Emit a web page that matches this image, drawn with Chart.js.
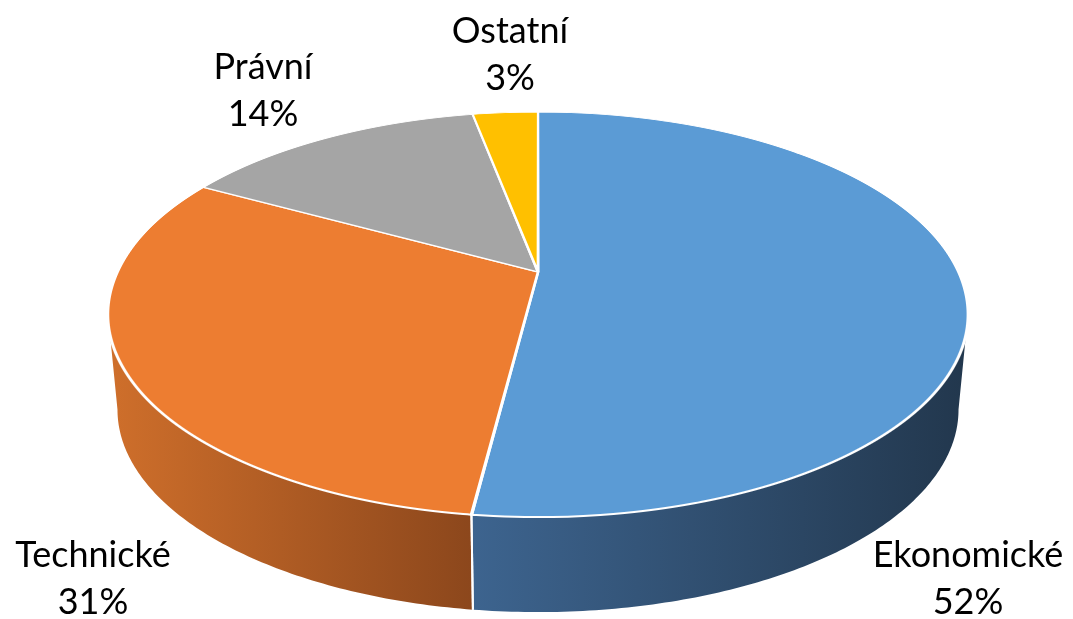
<!DOCTYPE html>
<html>
<head>
<meta charset="utf-8">
<script src="https://cdn.jsdelivr.net/npm/chart.js@4.4.0/dist/chart.umd.min.js"></script>
<style>
  html, body { margin: 0; padding: 0; background: #fff; }
  #wrap { width: 1073px; height: 619px; position: relative; }
</style>
</head>
<body>
<div id="wrap"><canvas id="pie"></canvas></div>
<script>
const categories = ['Ekonomické', 'Technické', 'Právní', 'Ostatní'];
const shares = [52, 31, 14, 3];
const topColors = ['#5B9BD5', '#ED7D31', '#A5A5A5', '#FFC000'];
const wallColors = [['#3D648F', '#22374D'], ['#CF6F2B', '#8C471C'], ['#7C7C7C', '#5A5A5A'], ['#BF9000', '#8F6C00']];

// perspective of the tilted disc: y = (a*v + b) / (c*v + 1), x = cx + k*u / (c*v + 1)
const persp = { cx: 538, a: 136.5, b: 272, c: -0.21, k: 420.4, depth: 95, shrink: 0.978 };

// where each label sits (centre x, first baseline y)
const labelPos = [[968, 567], [93, 567], [263, 79], [510, 43]];

function project(u, v) {
  const d = persp.c * v + 1;
  return [persp.cx + persp.k * u / d, (persp.a * v + persp.b) / d];
}
function projectY(v) { return (persp.a * v + persp.b) / (persp.c * v + 1); }
function unprojectY(y) { return (y - persp.b) / (persp.a - persp.c * y); }
function slopeY(v) { const d = persp.c * v + 1; return (persp.a - persp.c * persp.b) / (d * d); }

function drawWalls(ctx, arcs) {
  const lim = Math.asin(-persp.c);
  arcs.forEach((arc, i) => {
    const a = Math.max(arc.startAngle, lim);
    const b = Math.min(arc.endAngle, Math.PI - lim);
    if (a >= b) return;
    const top = [], bot = [];
    const n = Math.max(4, Math.ceil((b - a) * 80));
    for (let j = 0; j <= n; j++) {
      const t = a + (b - a) * j / n;
      const p = project(Math.cos(t), Math.sin(t));
      top.push(p);
      bot.push([persp.cx + (p[0] - persp.cx) * persp.shrink, p[1] + persp.depth]);
    }
    const xs = top.map(p => p[0]);
    const g = ctx.createLinearGradient(Math.min(...xs), 0, Math.max(...xs), 0);
    g.addColorStop(0, wallColors[i][0]);
    g.addColorStop(1, wallColors[i][1]);
    ctx.beginPath();
    top.forEach((p, j) => j ? ctx.lineTo(p[0], p[1]) : ctx.moveTo(p[0], p[1]));
    for (let j = bot.length - 1; j >= 0; j--) ctx.lineTo(bot[j][0], bot[j][1]);
    ctx.closePath();
    ctx.fillStyle = g;
    ctx.fill();
  });
  // white seams where slices meet on the wall
  arcs.forEach(arc => {
    [arc.startAngle, arc.endAngle].forEach(t => {
      if (t <= lim || t >= Math.PI - lim) return;
      const p = project(Math.cos(t), Math.sin(t));
      ctx.strokeStyle = '#fff';
      ctx.lineWidth = 2;
      ctx.beginPath();
      ctx.moveTo(p[0], p[1]);
      ctx.lineTo(persp.cx + (p[0] - persp.cx) * persp.shrink, p[1] + persp.depth);
      ctx.stroke();
    });
  });
}

const pie3d = {
  id: 'pie3d',
  beforeDatasetsDraw(chart) {
    const ctx = chart.ctx;
    const arcs = chart.getDatasetMeta(0).data;
    const ax = arcs[0].x, ay = arcs[0].y, R = arcs[0].outerRadius;
    ctx.save();
    drawWalls(ctx, arcs);
    // the flat pie is drawn one pixel row at a time, each row with its own scale
    const yTop = Math.floor(projectY(-1)) - 3;
    const yBot = Math.ceil(projectY(1)) + 3;
    for (let y = yTop; y < yBot; y++) {
      const vm = unprojectY(y + 0.5);
      const sc = persp.k / (persp.c * vm + 1) / R;
      const sy = slopeY(vm) / R;
      ctx.save();
      ctx.setTransform(1, 0, 0, 1, 0, 0);
      ctx.beginPath();
      ctx.rect(0, y, chart.width, 1);
      ctx.clip();
      ctx.setTransform(sc, 0, 0, sy, persp.cx - sc * ax, y + 0.5 - sy * (ay + vm * R));
      arcs.forEach(arc => arc.draw(ctx));
      ctx.restore();
    }
    ctx.restore();
    return false;
  },
  afterDraw(chart) {
    const ctx = chart.ctx;
    ctx.save();
    ctx.fillStyle = '#000';
    ctx.font = '36px Lato, "Open Sans", sans-serif';
    ctx.textAlign = 'center';
    ctx.textBaseline = 'alphabetic';
    const data = chart.data.datasets[0].data;
    const total = data.reduce((s, v) => s + v, 0);
    chart.data.labels.forEach((lab, i) => {
      const [x, y] = labelPos[i];
      ctx.fillText(lab, x, y);
      ctx.fillText(Math.round(data[i] / total * 100) + '%', x, y + 47);
    });
    ctx.restore();
  }
};

new Chart(document.getElementById('pie'), {
  type: 'pie',
  data: {
    labels: categories,
    datasets: [{
      data: shares,
      backgroundColor: topColors,
      borderColor: '#fff',
      borderWidth: 2
    }]
  },
  options: {
    responsive: true,
    maintainAspectRatio: false,
    animation: false,
    plugins: {
      legend: { display: false },
      tooltip: { enabled: false }
    }
  },
  plugins: [pie3d]
});
</script>
</body>
</html>
